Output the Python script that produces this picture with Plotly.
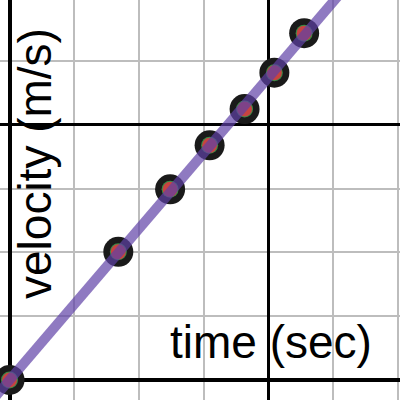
import numpy as np
import plotly.graph_objects as go

# Data
time_sec = [0.0, 1.68, 2.48, 3.09, 3.63, 4.09, 4.55]
velocity = [0.0, 2.01, 2.99, 3.68, 4.25, 4.82, 5.44]
x_label = "time (sec)"
y_label = "velocity (m/s)"

t = np.array(time_sec)
v = np.array(velocity)
slope = float((t * v).sum() / (t * t).sum())

x_range = [-0.147, 6.03]
y_range = [-0.314, 5.96]
line_x = np.array([x_range[0] - 1, x_range[1] + 1])
line_y = slope * line_x

fig = go.Figure()
# empty trace to activate the secondary axes that carry the heavy grid lines
fig.add_trace(go.Scatter(x=[None], y=[None], xaxis="x2", yaxis="y2",
                         showlegend=False, hoverinfo="skip"))
fig.add_trace(go.Scatter(x=time_sec, y=velocity, mode="markers",
                         marker=dict(size=30, color="#1a1a1a", line=dict(width=0)),
                         hoverinfo="skip", showlegend=False))
fig.add_trace(go.Scatter(x=time_sec, y=velocity, mode="markers",
                         marker=dict(size=17, color="#388c46", line=dict(width=0)),
                         hoverinfo="skip", showlegend=False))
fig.add_trace(go.Scatter(x=time_sec, y=velocity, mode="markers",
                         marker=dict(size=15, color="#c74440", line=dict(width=0)),
                         hoverinfo="skip", showlegend=False))
fig.add_trace(go.Scatter(x=line_x, y=line_y, mode="lines",
                         line=dict(color="rgba(96,66,166,0.7)", width=10),
                         hoverinfo="skip", showlegend=False))

grid_style = dict(showgrid=True, gridcolor="#bdbdbd", gridwidth=2, dtick=1, tick0=0,
                  showticklabels=False, ticks="", showline=False,
                  zeroline=True, zerolinecolor="black", zerolinewidth=4)
fig.update_layout(
    width=400, height=400,
    margin=dict(l=0, r=0, t=0, b=0),
    paper_bgcolor="white", plot_bgcolor="white",
    xaxis=dict(range=x_range, **grid_style),
    yaxis=dict(range=y_range, **grid_style),
    xaxis2=dict(range=x_range, overlaying="x", showgrid=True, gridcolor="black",
                gridwidth=3, dtick=4, tick0=0, showticklabels=False, ticks="",
                zeroline=False, showline=False),
    yaxis2=dict(range=y_range, overlaying="y", showgrid=True, gridcolor="black",
                gridwidth=3, dtick=4, tick0=0, showticklabels=False, ticks="",
                zeroline=False, showline=False),
    annotations=[
        dict(text=x_label, xref="paper", yref="paper", x=0.935, y=0.145,
             xanchor="right", yanchor="middle", showarrow=False,
             font=dict(family="Liberation Sans, Arial", size=46, color="black")),
        dict(text=y_label, xref="paper", yref="paper", x=0.0875, y=0.59,
             xanchor="center", yanchor="middle", textangle=-90, showarrow=False,
             font=dict(family="Liberation Sans, Arial", size=46, color="black")),
    ],
)
fig.write_html("out.html", config={"displayModeBar": False, "staticPlot": True},
               post_script="document.body.style.margin='0';document.body.style.overflow='hidden';")
